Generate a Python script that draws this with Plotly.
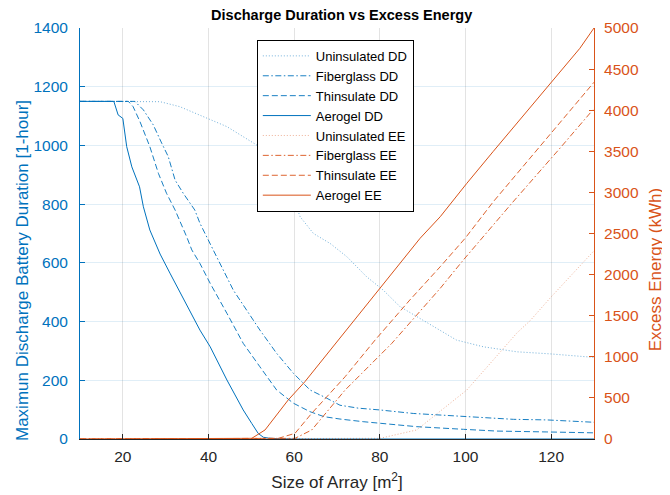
import plotly.graph_objects as go

BLUE = '#0072BD'
ORANGE = '#D95319'
DARK = '#262626'

# ---- discharge duration (left axis) ----
unins_dd_x = [10, 23.2, 28.7, 33.3, 38, 44.3, 51.3, 59.8, 61.4, 64.5, 68.4, 72.3, 76.9, 80.8,
              84.7, 88.6, 93.3, 97.9, 104.2, 112, 119.7, 130]
unins_dd_y = [1150, 1150, 1149, 1132, 1104, 1064, 1001, 820, 757, 700, 666, 621, 553, 507,
              451, 417, 377, 337, 314, 297, 290, 278]

fiber_dd_x = [10, 22.8, 24.8, 27.1, 29.1, 30.6, 32.2, 34.1, 36.8, 38, 41.1, 45.8, 52, 55.9,
              59.8, 63.7, 67.6, 70.7, 75, 80, 87.8, 99.5, 111.2, 119, 130]
fiber_dd_y = [1150, 1150, 1121, 1070, 1007, 962, 882, 837, 780, 735, 644, 507, 371, 292,
              224, 167, 139, 115, 105, 99, 87, 76, 67, 65, 57]

thins_dd_x = [10, 21.3, 22.4, 24, 26.3, 28.3, 30.2, 32.2, 34.9, 36.1, 38, 40.4, 44.3, 48.1,
              52, 55.9, 59.8, 63.7, 67, 70.7, 76.1, 83.9, 88.6, 99.5, 107.3, 119, 130]
thins_dd_y = [1150, 1150, 1132, 1081, 996, 905, 837, 780, 689, 644, 598, 530, 428, 326,
              246, 167, 122, 93, 76, 68, 59, 48, 42, 33, 27, 24, 21]

aero_dd_x = [10, 17.9, 18.9, 20, 20.9, 22.1, 23.9, 24.8, 26.3, 28.7, 31, 33.3, 35.5, 38, 40.4,
             42.3, 44.3, 46.2, 48.1, 50.1, 51.6, 52.8, 54, 56, 60, 130]
aero_dd_y = [1150, 1150, 1104, 1092, 996, 927, 859, 791, 712, 630, 565, 502, 440, 371, 314,
             258, 201, 150, 99, 53, 19, 6, 3, 1, 0, 0]

# ---- excess energy (right axis) ----
unins_ee_x = [10, 79, 80, 88.6, 100.3, 107.3, 112, 115.1, 119.7, 130]
unins_ee_y = [0, 0, 8, 110, 596, 1010, 1290, 1440, 1712, 2290]

fiber_ee_x = [10, 58, 60.2, 64.1, 68, 71.9, 75.8, 82.8, 91.7, 94.1, 99.5, 110.8, 121.7, 129.1, 130]
fiber_ee_y = [0, 0, 8, 110, 353, 596, 799, 1164, 1691, 1833, 2178, 2867, 3516, 3962, 4020]

thins_ee_x = [10, 55, 56.3, 60.2, 64.1, 68, 71.9, 78.9, 87, 94.1, 99.9, 106.5, 116.6, 129.1, 130]
thins_ee_y = [0, 0, 8, 69, 313, 535, 758, 1204, 1691, 2096, 2441, 2887, 3516, 4286, 4340]

aero_ee_x = [10, 49, 50.1, 53.2, 58.6, 62.5, 70.3, 81.6, 89.4, 94.1, 100.3, 106.5, 112.7,
             120.1, 126.7, 130]
aero_ee_y = [0, 0, 8, 110, 474, 697, 1204, 1934, 2442, 2704, 3110, 3500, 3881,
             4347, 4753, 5000]

DOT = '1px,2px'
DASH = '6px,3px'
DASHDOT = '6px,2.5px,1.5px,2.5px'

series = [
    ('Uninsulated DD', unins_dd_x, unins_dd_y, BLUE, DOT, 0.55, 'y'),
    ('Fiberglass DD', fiber_dd_x, fiber_dd_y, BLUE, DASHDOT, 0.9, 'y'),
    ('Thinsulate DD', thins_dd_x, thins_dd_y, BLUE, DASH, 0.9, 'y'),
    ('Aerogel DD', aero_dd_x, aero_dd_y, BLUE, 'solid', 1, 'y'),
    ('Uninsulated EE', unins_ee_x, unins_ee_y, ORANGE, DOT, 0.45, 'y2'),
    ('Fiberglass EE', fiber_ee_x, fiber_ee_y, ORANGE, DASHDOT, 0.9, 'y2'),
    ('Thinsulate EE', thins_ee_x, thins_ee_y, ORANGE, DASH, 0.9, 'y2'),
    ('Aerogel EE', aero_ee_x, aero_ee_y, ORANGE, 'solid', 1, 'y2'),
]

fig = go.Figure()
for name, xs, ys, color, dash, op, ax in series:
    fig.add_trace(go.Scatter(
        x=xs, y=ys, mode='lines', name=name, yaxis=ax, opacity=op,
        line=dict(color=color, width=1, dash=dash)
    ))

FONT = 'Liberation Sans, Arial, sans-serif'

# y labels sit a little below the axes centre in the original, so place them by hand
fig.add_annotation(text='Maximun Discharge Battery Duration [1-hour]', xref='paper', yref='paper',
                   x=-0.113, y=0.411, xanchor='center', yanchor='middle', textangle=-90,
                   showarrow=False, font=dict(size=17, color=BLUE))
fig.add_annotation(text='Excess Energy (kWh)', xref='paper', yref='paper',
                   x=1.119, y=0.411, xanchor='center', yanchor='middle', textangle=-90,
                   showarrow=False, font=dict(size=17, color=ORANGE))

# the page body adds an 8px margin, so the figure is a bit smaller than the window
fig.update_layout(
    width=662, height=487,
    margin=dict(l=72, r=76, t=20, b=56),
    paper_bgcolor='white', plot_bgcolor='white',
    font=dict(family=FONT, size=15, color=DARK),
    title=dict(text='<b>Discharge Duration vs Excess Energy</b>', x=0.504, xanchor='center',
               y=0.986, yanchor='middle', font=dict(size=14.5, color='black')),
    xaxis=dict(
        range=[10, 130], tickvals=[20, 40, 60, 80, 100, 120], ticks='inside', ticklen=5,
        tickcolor=DARK, showline=True, linecolor=DARK, linewidth=1,
        showgrid=True, gridcolor='rgba(38,38,38,0.13)', zeroline=False,
        ticklabelstandoff=3, automargin=False,
        title=dict(text='Size of Array [m<sup>2</sup>]', font=dict(size=17, color=DARK), standoff=12),
        tickfont=dict(size=15.5, color=DARK),
    ),
    yaxis=dict(
        range=[0, 1400], dtick=200, ticks='inside', ticklen=5, tickcolor=BLUE,
        showline=True, linecolor=BLUE, linewidth=1,
        showgrid=True, gridcolor='rgba(0,114,189,0.12)', zeroline=False,
        ticklabelstandoff=8, automargin=False,
        tickfont=dict(size=15.5, color=BLUE),
    ),
    yaxis2=dict(
        range=[0, 5000], dtick=500, overlaying='y', side='right', anchor='x',
        ticks='inside', ticklen=5, tickcolor=ORANGE,
        showline=True, linecolor=ORANGE, linewidth=1, showgrid=False, zeroline=False,
        ticklabelstandoff=6, automargin=False,
        tickfont=dict(size=15.5, color=ORANGE),
    ),
    legend=dict(
        x=0.344, y=0.971, xanchor='left', yanchor='top',
        bgcolor='white', bordercolor='black', borderwidth=1,
        font=dict(size=13, color='black'), tracegroupgap=0, itemwidth=48,
    ),
    showlegend=True,
)

fig.write_html("out.html")
